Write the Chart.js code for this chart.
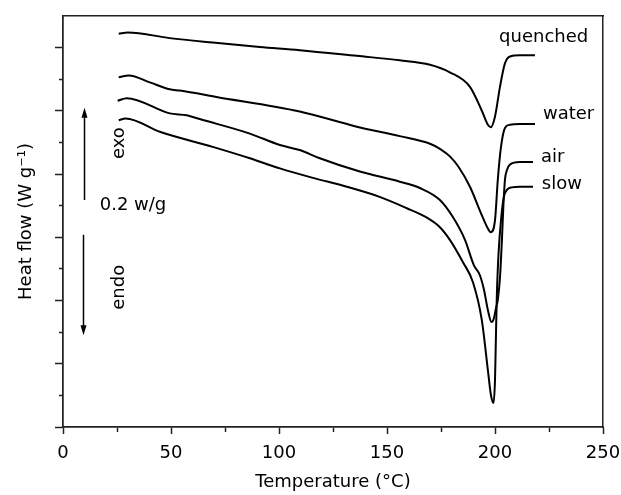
<!DOCTYPE html>
<html>
<head>
<meta charset="utf-8">
<script src="https://cdn.jsdelivr.net/npm/chart.js@4.4.1/dist/chart.umd.min.js"></script>
<style>
  html, body { margin: 0; padding: 0; background: #fff; }
</style>
</head>
<body>
<canvas id="dsc" width="621" height="495"></canvas>
<script>
// DSC traces: temperature (°C) vs heat flow (offset units, 1 unit = 1 major tick)
const quenchedT  = [25.8, 30, 49.4, 69.3, 91.1, 109.6, 136.0, 155.9, 169.9, 179.1, 188.4, 193.8, 196.7, 198.1, 200.0, 202.3, 204.6, 206.9, 211.5, 218.5];
const quenchedHF = [6.22, 6.24, 6.15, 6.08, 6.01, 5.96, 5.87, 5.80, 5.73, 5.61, 5.38, 5.01, 4.78, 4.74, 4.91, 5.38, 5.75, 5.86, 5.88, 5.88];

const waterT  = [25.8, 30.5, 40.2, 49.4, 54.1, 71.0, 109.6, 136.0, 155.9, 169.9, 174.5, 179.1, 183.0, 188.4, 193.9, 196.7, 198.1, 200.0, 201.3, 202.7, 204.6, 206.9, 211.5, 218.5];
const waterHF = [5.53, 5.56, 5.45, 5.34, 5.32, 5.22, 4.99, 4.75, 4.60, 4.48, 4.40, 4.28, 4.12, 3.80, 3.35, 3.14, 3.08, 3.27, 3.91, 4.41, 4.73, 4.78, 4.79, 4.79];

const airT  = [25.3, 29.5, 49.4, 57.3, 63.3, 86.5, 100.4, 109.6, 118.9, 137.4, 155.9, 165.2, 174.5, 180.5, 186.1, 190.2, 193.0, 194.9, 196.7, 198.4, 199.5, 200.4, 201.3, 202.3, 203.2, 203.9, 204.6, 205.5, 206.9, 211.5, 217.6];
const airHF = [5.16, 5.20, 4.96, 4.93, 4.87, 4.64, 4.46, 4.38, 4.25, 4.04, 3.88, 3.78, 3.59, 3.32, 2.96, 2.56, 2.40, 2.17, 1.85, 1.66, 1.72, 1.87, 2.01, 2.36, 2.96, 3.51, 3.91, 4.06, 4.15, 4.19, 4.19];

const slowT  = [25.8, 29.0, 44.8, 69.3, 86.5, 100.4, 115.7, 131.4, 146.6, 159.2, 168.5, 174.5, 179.1, 185.1, 189.8, 193.9, 196.7, 198.1, 199.3, 200.0, 200.4, 200.8, 201.6, 203.0, 204.1, 205.5, 207.8, 211.5, 217.6];
const slowHF = [4.85, 4.88, 4.67, 4.43, 4.25, 4.09, 3.94, 3.80, 3.64, 3.46, 3.31, 3.16, 2.96, 2.61, 2.29, 1.69, 0.90, 0.51, 0.38, 0.74, 1.38, 2.01, 2.72, 3.35, 3.64, 3.75, 3.79, 3.80, 3.80];

const xTicks = [0, 50, 100, 150, 200, 250];
const xMinorTicks = [25, 75, 125, 175, 225];
const yTicks = [0, 1, 2, 3, 4, 5, 6];
const yMinorTicks = [0.5, 1.5, 2.5, 3.5, 4.5, 5.5];

// text put on the plot, placed in data units
const notes = [
  { text: 'quenched', t: 201.9, hf: 6.17 },
  { text: 'water', t: 222.2, hf: 4.95 },
  { text: 'air', t: 221.3, hf: 4.27 },
  { text: 'slow', t: 221.7, hf: 3.84 },
  { text: '0.2 w/g', t: 17.0, hf: 3.50 },
  { text: 'exo', t: 26.3, hf: 4.49, rot: true },
  { text: 'endo', t: 26.3, hf: 2.21, rot: true }
];
const arrows = [
  { t: 9.6, from: 3.59, to: 5.05 },
  { t: 9.4, from: 3.04, to: 1.45 }
];

const font = { family: 'DejaVu Sans', size: 18 };
const ink = '#222';

function pts(T, HF) { return T.map((t, i) => ({ x: t, y: HF[i] })); }
function line(label, T, HF) {
  return { label, data: pts(T, HF), borderColor: '#000', borderWidth: 2, pointRadius: 0,
           fill: false, cubicInterpolationMode: 'monotone' };
}
function setTicks(arr) { return s => { s.ticks = arr.map(v => ({ value: v })); }; }

const notesPlugin = {
  id: 'notes',
  afterDraw(chart) {
    const { ctx } = chart;
    const x = chart.scales.x, y = chart.scales.y;
    ctx.save();
    ctx.fillStyle = '#000';
    ctx.strokeStyle = '#000';
    ctx.font = font.size + 'px "' + font.family + '"';
    ctx.textBaseline = 'middle';
    notes.forEach(n => {
      ctx.save();
      ctx.translate(x.getPixelForValue(n.t), y.getPixelForValue(n.hf));
      if (n.rot) { ctx.rotate(-Math.PI / 2); ctx.textAlign = 'center'; }
      else ctx.textAlign = 'left';
      ctx.fillText(n.text, 0, 0);
      ctx.restore();
    });
    arrows.forEach(a => {
      const px = Math.round(x.getPixelForValue(a.t)) + 0.5;
      const y0 = y.getPixelForValue(a.from), y1 = y.getPixelForValue(a.to);
      const dir = y1 < y0 ? 1 : -1;
      ctx.lineWidth = 1.5;
      ctx.beginPath();
      ctx.moveTo(px, y0);
      ctx.lineTo(px, y1 + dir * 8);
      ctx.stroke();
      ctx.beginPath();
      ctx.moveTo(px, y1);
      ctx.lineTo(px - 3, y1 + dir * 10);
      ctx.lineTo(px + 3, y1 + dir * 10);
      ctx.closePath();
      ctx.fill();
    });
    ctx.restore();
  }
};

const hidden = { drawOnChartArea: false, drawTicks: false };

new Chart(document.getElementById('dsc'), {
  type: 'line',
  data: {
    datasets: [
      line('quenched', quenchedT, quenchedHF),
      line('water', waterT, waterHF),
      line('air', airT, airHF),
      line('slow', slowT, slowHF)
    ]
  },
  options: {
    responsive: false,
    animation: false,
    devicePixelRatio: 1,
    layout: { padding: { top: 16, right: 18, left: 0, bottom: 0 } },
    plugins: { legend: { display: false }, tooltip: { enabled: false } },
    scales: {
      x: {
        type: 'linear', position: 'bottom', weight: 1, min: 0, max: 250,
        afterBuildTicks: setTicks(xTicks),
        afterFit: s => { s.height = 68; s.paddingLeft = 0; s.paddingRight = 0; },
        grid: { drawOnChartArea: false, tickLength: 7, tickColor: ink, tickWidth: 1.5 },
        border: { color: ink, width: 1.5 },
        ticks: { color: '#000', font, padding: 9, maxRotation: 0 },
        title: { display: true, text: 'Temperature (°C)', color: '#000', font, padding: { top: 0, bottom: 2 } }
      },
      xMinor: {
        type: 'linear', position: 'bottom', weight: 0, min: 0, max: 250,
        afterBuildTicks: setTicks(xMinorTicks),
        afterFit: s => { s.height = 0; },
        grid: { drawOnChartArea: false, tickLength: 5, tickColor: ink, tickWidth: 1.5 },
        border: { color: ink, width: 1.5 },
        ticks: { display: false }
      },
      xTop: {
        type: 'linear', position: 'top', min: 0, max: 250,
        afterFit: s => { s.height = 0; },
        grid: hidden, border: { color: ink, width: 1.5 }, ticks: { display: false }
      },
      y: {
        type: 'linear', position: 'left', weight: 1, min: 0, max: 6.5,
        afterBuildTicks: setTicks(yTicks),
        afterFit: s => { s.width = 63; },
        grid: { drawOnChartArea: false, tickLength: 8, tickColor: ink, tickWidth: 1.5 },
        border: { color: ink, width: 1.5 },
        ticks: { display: false },
        title: { display: true, text: 'Heat flow (W g⁻¹)', color: '#000', font, padding: { top: 16, bottom: 0 } }
      },
      yMinor: {
        type: 'linear', position: 'left', weight: 0, min: 0, max: 6.5,
        afterBuildTicks: setTicks(yMinorTicks),
        afterFit: s => { s.width = 0; },
        grid: { drawOnChartArea: false, tickLength: 4, tickColor: ink, tickWidth: 1.5 },
        border: { color: ink, width: 1.5 },
        ticks: { display: false }
      },
      yRight: {
        type: 'linear', position: 'right', min: 0, max: 6.5,
        afterFit: s => { s.width = 0; },
        grid: hidden, border: { color: ink, width: 1.5 }, ticks: { display: false }
      }
    }
  },
  plugins: [notesPlugin]
});
</script>
</body>
</html>
